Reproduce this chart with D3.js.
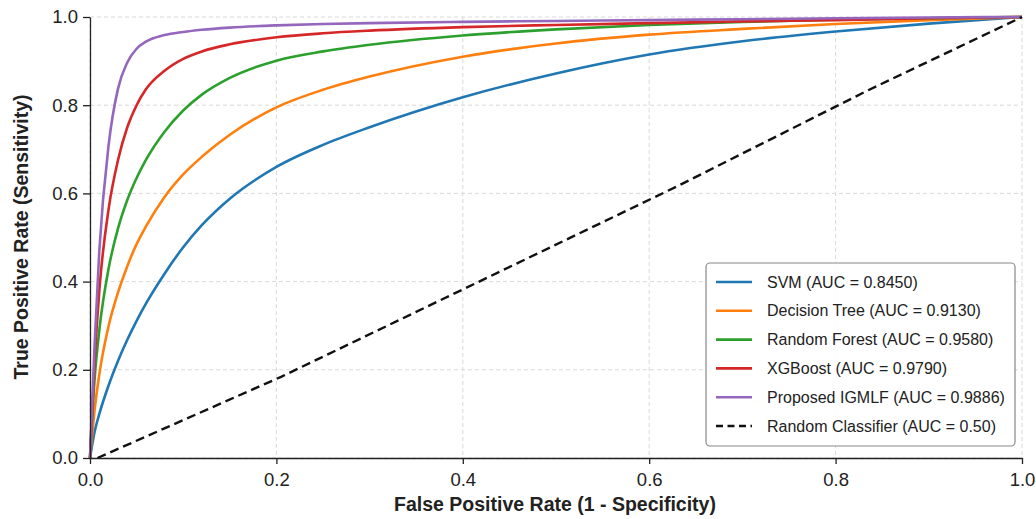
<!DOCTYPE html>
<html><head><meta charset="utf-8">
<script src="https://cdn.jsdelivr.net/npm/d3@7"></script>
<style>body{margin:0;background:#fff}svg{display:block;font-family:"Liberation Sans",Arial,Helvetica,sans-serif}</style>
</head><body><svg id="c" width="1036" height="519"></svg>
<script>
const fpr = [0,0.005,0.01,0.02,0.03,0.04,0.05,0.06,0.08,0.10,0.12,0.15,0.20,0.25,0.30,0.40,0.50,0.60,0.70,0.80,0.90,1.0];
const tprSVM   = [0,0.06,0.10,0.165,0.22,0.268,0.311,0.35,0.418,0.478,0.528,0.588,0.66,0.71,0.75,0.818,0.872,0.915,0.945,0.967,0.985,1.0];
const tprDT    = [0,0.11,0.19,0.30,0.375,0.435,0.485,0.525,0.592,0.643,0.683,0.733,0.795,0.835,0.865,0.91,0.94,0.96,0.973,0.984,0.993,1.0];
const tprRF    = [0,0.18,0.29,0.43,0.52,0.585,0.635,0.676,0.74,0.788,0.824,0.862,0.901,0.922,0.937,0.958,0.972,0.982,0.989,0.994,0.997,1.0];
const tprXGB   = [0,0.22,0.38,0.565,0.675,0.75,0.80,0.836,0.878,0.905,0.922,0.938,0.954,0.963,0.969,0.977,0.982,0.986,0.99,0.993,0.997,1.0];
const tprIGMLF = [0,0.26,0.47,0.71,0.837,0.897,0.928,0.944,0.959,0.966,0.971,0.976,0.981,0.984,0.986,0.989,0.991,0.993,0.995,0.997,0.999,1.0];
const randFpr = [0.008,0.205,0.629,0.835,1.0];
const randTpr = [0,0.184,0.615,0.834,1.0];
const seriesNames = ["SVM (AUC = 0.8450)","Decision Tree (AUC = 0.9130)","Random Forest (AUC = 0.9580)","XGBoost (AUC = 0.9790)","Proposed IGMLF (AUC = 0.9886)"];
const seriesColors = ["#1f77b4","#ff7f0e","#2ca02c","#d62728","#9467bd"];
const randomName = "Random Classifier (AUC = 0.50)";
const tickVals = [0,0.2,0.4,0.6,0.8,1.0];
const xTitle = "False Positive Rate (1 - Specificity)";
const yTitle = "True Positive Rate (Sensitivity)";

const svg = d3.select("#c");
const L=90,R=1022,T=17,B=458;
const x = d3.scaleLinear().domain([0,1]).range([L,R]);
const y = d3.scaleLinear().domain([0,1]).range([B,T]);

// grid
const g = svg.append("g");
tickVals.forEach(v=>{
  g.append("line").attr("x1",x(v)).attr("x2",x(v)).attr("y1",T).attr("y2",B)
    .attr("stroke","#d9d9d9").attr("stroke-width",1).attr("stroke-dasharray","4,3");
  g.append("line").attr("x1",L).attr("x2",R).attr("y1",y(v)).attr("y2",y(v))
    .attr("stroke","#d9d9d9").attr("stroke-width",1).attr("stroke-dasharray","4,3");
});

// curves
const allT = [tprSVM,tprDT,tprRF,tprXGB,tprIGMLF];
const line = d3.line().x(d=>x(d[0])).y(d=>y(d[1])).curve(d3.curveMonotoneX);
allT.forEach((t,i)=>{
  svg.append("path").attr("d",line(fpr.map((f,j)=>[f,t[j]])))
    .attr("fill","none").attr("stroke",seriesColors[i]).attr("stroke-width",2.6)
    .attr("stroke-linejoin","round");
});
svg.append("path").attr("d",d3.line().x(d=>x(d[0])).y(d=>y(d[1]))(randFpr.map((f,j)=>[f,randTpr[j]])))
  .attr("fill","none").attr("stroke","#111").attr("stroke-width",2.4).attr("stroke-dasharray","9,5");

// axes
const xa = svg.append("g").attr("transform",`translate(0,${B})`)
  .call(d3.axisBottom(x).tickValues(tickVals).tickFormat(d3.format(".1f")).tickSize(6).tickSizeOuter(0));
const ya = svg.append("g").attr("transform",`translate(${L},0)`)
  .call(d3.axisLeft(y).tickValues(tickVals).tickFormat(d3.format(".1f")).tickSize(7).tickSizeOuter(0));
[xa,ya].forEach(a=>{
  a.select(".domain").attr("stroke","#222").attr("stroke-width",1.3);
  a.selectAll(".tick line").attr("stroke","#222").attr("stroke-width",1.3);
  a.selectAll(".tick text").attr("font-size",18.5).attr("fill","#222").attr("font-family","Liberation Sans, Arial, sans-serif");
});
xa.selectAll(".tick text").attr("dy","1.0em");
ya.selectAll(".tick text").attr("dx","-2");

svg.append("text").attr("x",555).attr("y",511).attr("text-anchor","middle")
  .attr("font-size",19.5).attr("font-weight","bold").attr("fill","#222").text(xTitle);
svg.append("text").attr("transform","translate(28,237) rotate(-90)").attr("text-anchor","middle")
  .attr("font-size",19.5).attr("font-weight","bold").attr("fill","#222").text(yTitle);

// legend
const lg = svg.append("g");
lg.append("rect").attr("x",706).attr("y",263).attr("width",309).attr("height",183).attr("rx",4)
  .attr("fill","#fff").attr("fill-opacity",0.9).attr("stroke","#888").attr("stroke-width",1.2);
const names = seriesNames.concat([randomName]);
names.forEach((n,i)=>{
  const yy = 282 + i*28.8;
  const ln = lg.append("line").attr("x1",716).attr("x2",752).attr("y1",yy).attr("y2",yy)
    .attr("stroke-width",2.6);
  if(i<5) ln.attr("stroke",seriesColors[i]);
  else ln.attr("stroke","#111").attr("stroke-dasharray","7,4.5");
  lg.append("text").attr("x",767).attr("y",yy).attr("dy","0.35em").attr("font-size",16)
    .attr("fill","#222").text(n);
});
</script></body></html>
